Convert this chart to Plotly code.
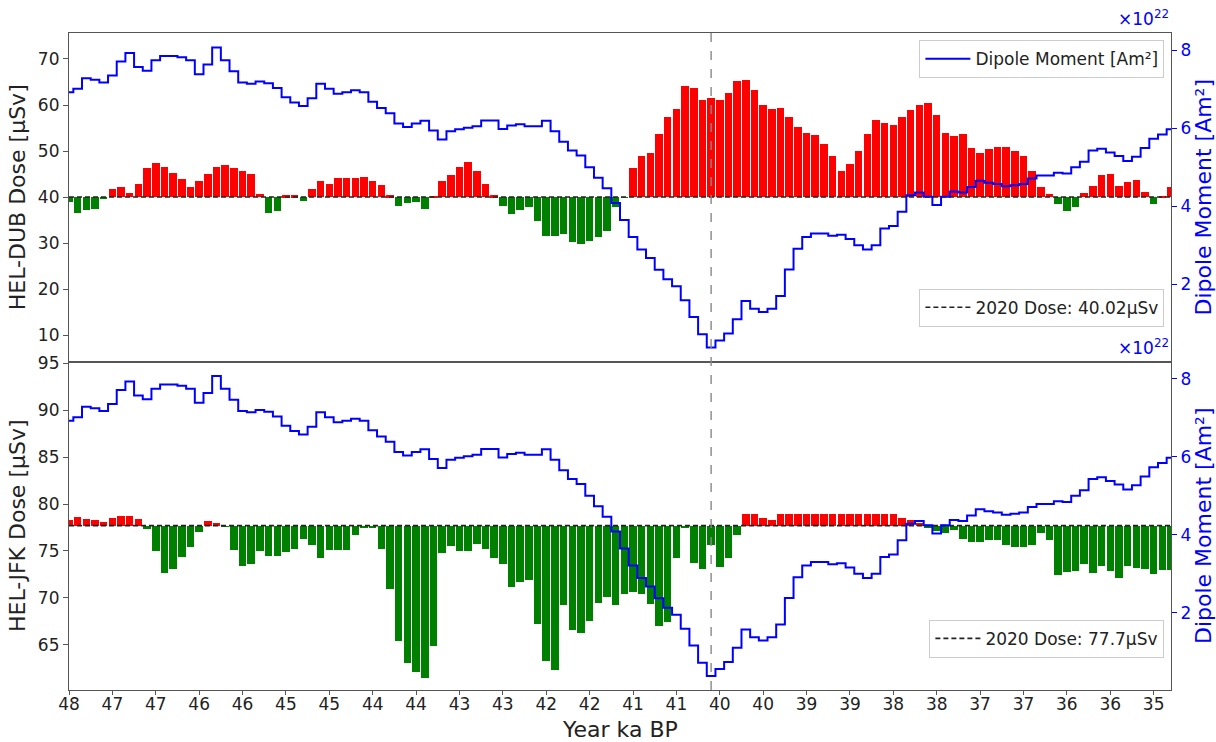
import numpy as np
import plotly.graph_objects as go
from plotly.subplots import make_subplots

# Age grid in ka BP (oldest first), one bin per bar / step
age_ka = np.round(np.linspace(48.0, 34.792, 128), 3)

# Route dose, HEL-DUB [µSv]
dose_hel_dub = [
    38.85, 36.6, 37.2, 37.5, 39.8, 41.87, 42.3, 40.85, 42.75, 46.3,
    47.4, 46.5, 45.25, 43.9, 42.3, 43.4, 45.1, 46.6, 46.9, 46.4,
    45.6, 44.95, 40.7, 36.6, 37.0, 40.4, 40.4, 39.05, 41.8, 43.4,
    42.75, 44.1, 44.1, 44.1, 44.4, 43.4, 42.7, 40.4, 38.1, 38.7,
    38.85, 37.5, 40.2, 43.4, 44.8, 46.6, 47.7, 45.7, 42.75, 40.4,
    38.1, 36.4, 37.2, 37.8, 34.75, 31.6, 31.6, 32.05, 30.2, 29.9,
    30.45, 31.4, 32.65, 37.95, 39.9, 46.3, 48.85, 49.5, 53.6, 57.3,
    59.1, 64.1, 63.65, 61.0, 61.5, 61.1, 62.6, 65.2, 65.5, 63.2,
    60.0, 59.1, 59.4, 57.5, 55.3, 53.9, 53.5, 51.6, 48.9, 45.7,
    47.1, 50.1, 53.7, 56.85, 56.0, 55.75, 57.4, 58.9, 60.1, 60.5,
    57.8, 53.9, 53.2, 53.6, 50.7, 49.6, 50.45, 50.9, 50.9, 50.0,
    48.9, 45.7, 42.3, 40.7, 38.6, 37.0, 37.95, 40.9, 42.5, 44.8,
    45.1, 42.5, 43.2, 43.7, 41.15, 38.6, 40.2, 42.3,
]

# Route dose, HEL-JFK [µSv]
dose_hel_jfk = [
    78.39, 78.7, 78.43, 78.3, 78.16, 78.53, 78.8, 78.75, 78.43, 77.4,
    75.03, 72.7, 73.14, 74.4, 75.48, 77.1, 78.26, 77.98, 77.65, 75.2,
    73.45, 73.7, 75.03, 74.48, 74.57, 74.93, 75.3, 76.37, 75.74, 74.26,
    75.2, 75.2, 75.2, 76.72, 77.6, 77.6, 75.3, 70.98, 65.5, 63.12,
    62.13, 61.55, 64.96, 74.8, 75.6, 75.03, 75.03, 75.83, 75.3, 74.35,
    73.7, 71.25, 71.8, 71.92, 67.3, 63.38, 62.36, 69.3, 66.6, 66.27,
    67.6, 69.55, 70.2, 69.3, 70.44, 70.66, 70.44, 69.45, 67.1, 67.5,
    74.26, 77.5, 73.8, 73.14, 75.74, 73.36, 74.26, 76.72, 78.98, 78.98,
    78.53, 78.3, 78.98, 78.98, 78.98, 78.98, 78.95, 78.95, 78.98, 78.98,
    78.98, 78.98, 78.98, 78.98, 78.95, 78.95, 78.6, 78.3, 77.98, 77.6,
    77.18, 76.96, 77.3, 76.37, 76.05, 76.05, 76.26, 76.26, 75.74, 75.48,
    75.48, 75.74, 76.96, 76.19, 72.46, 72.77, 72.91, 73.67, 72.69, 73.5,
    72.91, 72.15, 73.5, 73.22, 73.14, 72.6, 73.05, 73.05,
]

# Geomagnetic dipole moment [1e22 Am²]
dipole_moment_1e22 = [
    6.92, 7.01, 7.28, 7.24, 7.17, 7.35, 7.71, 7.93, 7.57, 7.47,
    7.74, 7.85, 7.85, 7.82, 7.74, 7.38, 7.63, 8.07, 7.74, 7.46,
    7.17, 7.14, 7.20, 7.15, 7.03, 6.79, 6.66, 6.57, 6.77, 7.14,
    7.01, 6.88, 6.92, 6.97, 6.92, 6.68, 6.52, 6.38, 6.12, 6.03,
    6.12, 6.19, 5.94, 5.71, 5.92, 5.97, 6.01, 6.05, 6.20, 6.20,
    5.98, 6.07, 6.10, 6.05, 6.05, 6.19, 5.92, 5.65, 5.43, 5.30,
    5.00, 4.73, 4.46, 4.08, 3.65, 3.21, 2.89, 2.67, 2.37, 2.13,
    1.95, 1.59, 1.16, 0.72, 0.38, 0.56, 0.74, 1.10, 1.57, 1.37,
    1.29, 1.37, 1.70, 2.38, 2.91, 3.21, 3.30, 3.30, 3.24, 3.27,
    3.16, 3.00, 2.89, 3.00, 3.43, 3.49, 3.86, 4.28, 4.35, 4.24,
    4.03, 4.24, 4.38, 4.35, 4.49, 4.65, 4.60, 4.57, 4.51, 4.54,
    4.57, 4.71, 4.79, 4.79, 4.86, 4.84, 5.00, 5.14, 5.43, 5.47,
    5.38, 5.29, 5.16, 5.27, 5.49, 5.73, 5.84, 5.97,
]

# Present-day (2020) reference doses [µSv]
dose_2020_dub = 40.02
dose_2020_jfk = 77.7

# Age of the dipole minimum (marked by a vertical line)
dipole_min_age = age_ka[int(np.argmin(dipole_moment_1e22))]

# Tick every fifth bin, labelled with the rounded age
tick_vals = list(age_ka[::5])
tick_text = [f"{round(v):.0f}" for v in tick_vals]

FONT = "DejaVu Sans"
RED = "#ff0000"
GREEN = "#008000"
BLUE = "#0000ff"
FRAME = "#555555"

fig = make_subplots(
    rows=2, cols=1, shared_xaxes=True, vertical_spacing=0,
    specs=[[{"secondary_y": True}], [{"secondary_y": True}]],
)


def add_panel(row, dose, ref, ref_label, legend_ref, show_dipole_legend):
    dose = np.asarray(dose)
    diff = dose - ref
    colors = [RED if d >= 0 else GREEN for d in diff]
    fig.add_trace(
        go.Bar(
            x=age_ka, y=diff, base=ref, width=0.09,
            marker=dict(color=colors, line=dict(width=0)),
            showlegend=False, hoverinfo="x+y",
        ),
        row=row, col=1, secondary_y=False,
    )
    fig.add_trace(
        go.Scatter(
            x=[age_ka[0], age_ka[-1]], y=[ref, ref], mode="lines",
            line=dict(color="#222222", width=1.6, dash="5px,3px"),
            name=ref_label, legend=legend_ref, showlegend=True,
        ),
        row=row, col=1, secondary_y=False,
    )
    fig.add_trace(
        go.Scatter(
            x=age_ka, y=dipole_moment_1e22, mode="lines",
            line=dict(color=BLUE, width=2, shape="hvh"),
            name="Dipole Moment [Am²]", legend="legend",
            showlegend=show_dipole_legend,
        ),
        row=row, col=1, secondary_y=True,
    )


add_panel(1, dose_hel_dub, dose_2020_dub,
          f"2020 Dose: {dose_2020_dub:.2f}µSv", "legend2", True)
add_panel(2, dose_hel_jfk, dose_2020_jfk,
          f"2020 Dose: {dose_2020_jfk}µSv", "legend3", False)

x_range = [age_ka[0], age_ka[-1]]
tick_font = dict(family=FONT, size=17, color="#222222")
title_font = dict(family=FONT, size=22, color="#222222")

common_x = dict(
    domain=[0.0, 1.0],
    range=x_range, showline=True, mirror=True, linecolor=FRAME, linewidth=1.2,
    showgrid=False, zeroline=False, tickvals=tick_vals, ticktext=tick_text,
    tickfont=tick_font, automargin=False,
)
fig.update_xaxes(**common_x)
fig.update_xaxes(ticks="", showticklabels=False, row=1, col=1)
fig.update_xaxes(ticks="outside", ticklen=4, tickcolor=FRAME,
                 ticklabelstandoff=-6, row=2, col=1)

left_common = dict(
    showline=True, mirror=True, linecolor=FRAME, linewidth=1.2,
    showgrid=False, zeroline=False, ticks="outside", ticklen=5,
    tickcolor=FRAME, tickfont=tick_font, automargin=False,
)
fig.update_yaxes(
    range=[4.3, 75.64], tickvals=[10, 20, 30, 40, 50, 60, 70],
    title=dict(text="HEL-DUB Dose [µSv]", font=title_font, standoff=6),
    row=1, col=1, secondary_y=False, **left_common,
)
fig.update_yaxes(
    range=[60.2, 95.17], tickvals=[65, 70, 75, 80, 85, 90, 95],
    title=dict(text="HEL-JFK Dose [µSv]", font=title_font, standoff=6),
    row=2, col=1, secondary_y=False, **left_common,
)

right_common = dict(
    range=[0.02, 8.44], tickvals=[2, 4, 6, 8], showgrid=False, zeroline=False,
    ticks="outside", ticklen=5, tickcolor=BLUE, showline=False,
    automargin=False,
    tickfont=dict(family=FONT, size=17, color=BLUE),
    title=dict(text="Dipole Moment [Am²]",
               font=dict(family=FONT, size=22, color=BLUE), standoff=6),
)
fig.update_yaxes(row=1, col=1, secondary_y=True, **right_common)
fig.update_yaxes(row=2, col=1, secondary_y=True, **right_common)

fig.update_layout(
    yaxis=dict(domain=[0.5, 1.0]), yaxis2=dict(domain=[0.5, 1.0]),
    yaxis3=dict(domain=[0.0, 0.5]), yaxis4=dict(domain=[0.0, 0.5]),
)

# Shared x-axis title below the lower panel
fig.add_annotation(
    xref="paper", yref="paper", x=0.5, y=0, yshift=-25, yanchor="top",
    showarrow=False, text="Year ka BP", font=title_font,
)

# Vertical marker at the dipole minimum across both panels
fig.add_shape(
    type="line", xref="x", yref="paper", x0=dipole_min_age, x1=dipole_min_age,
    y0=0, y1=1, line=dict(color="#888888", width=1.4, dash="dash"), layer="above",
)

# Scale factor of the dipole axes
for y_pos in (1.0, 0.5):
    fig.add_annotation(
        xref="paper", yref="paper", x=1.0, y=y_pos, xanchor="right",
        yanchor="bottom", yshift=2, showarrow=False,
        text="×10<sup>22</sup>", font=dict(family=FONT, size=17, color=BLUE),
    )

legend_style = dict(
    bgcolor="rgba(255,255,255,0.9)", bordercolor="#cccccc", borderwidth=1,
    font=dict(family=FONT, size=17, color="#222222"), xanchor="right",
    x=0.994, itemwidth=45,
)
fig.update_layout(
    legend=dict(y=0.989, yanchor="top", **legend_style),
    legend2=dict(y=0.553, yanchor="bottom", **legend_style),
    legend3=dict(y=0.049, yanchor="bottom", **legend_style),
)

fig.update_layout(
    width=1216, height=742,
    margin=dict(l=69, r=45, t=33, b=52, autoexpand=False),
    paper_bgcolor="white", plot_bgcolor="white",
    bargap=0, barmode="overlay",
    font=dict(family=FONT, color="#222222"),
)

fig.write_html("out.html")
